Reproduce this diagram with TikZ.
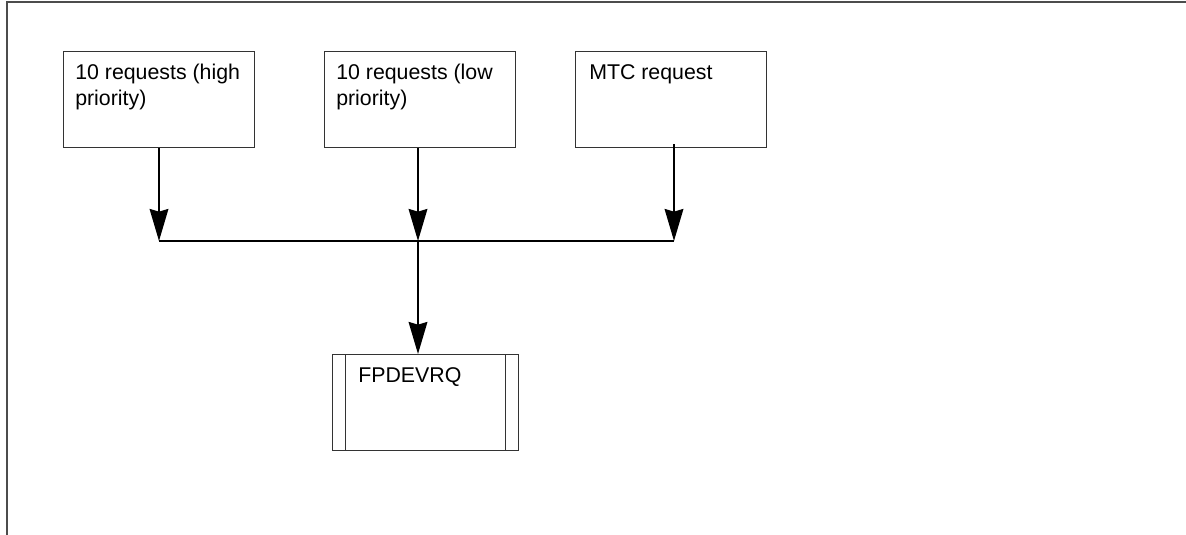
\documentclass[tikz,border=0pt]{standalone}
\usepackage{fontspec}
\setmainfont{Liberation Sans}
\usetikzlibrary{arrows.meta}
\begin{document}
\begin{tikzpicture}[x=0.75pt,y=-0.75pt,
  box/.style={draw=black!80,line width=0.8pt,minimum width=143.25pt,minimum height=72pt,inner sep=0pt,anchor=north west},
  lbl/.style={anchor=north west,inner sep=0pt,align=left,font=\fontsize{16}{19.5}\selectfont},
  flow/.style={line width=1.6pt,-{Stealth[length=24pt,width=14pt,inset=2pt]}},
  bus/.style={line width=1.6pt}]
\useasboundingbox (0,0) rectangle (1186,535);
\draw[black!70,line width=1.5pt] (7,535) -- (7,2) -- (1186,2);
% boxes
\node[box] (b1) at (63,51) {};
\node[box] (b2) at (324,51) {};
\node[box] (b3) at (575,51) {};
\node[lbl] (t1) at (75,64) {10 requests (high\\priority)};
\node[lbl] (t2) at (336,64) {10 requests (low\\priority)};
\node[lbl] (t3) at (589,64) {MTC request};
% predefined process box
\node[draw=black!80,line width=0.8pt,minimum width=139.5pt,minimum height=72pt,inner sep=0pt,anchor=north west] (fp) at (332,354) {};
\draw[black!80,line width=0.8pt] ([xshift=10pt]fp.north west) -- ([xshift=10pt]fp.south west);
\draw[black!80,line width=0.8pt] ([xshift=-10pt]fp.north east) -- ([xshift=-10pt]fp.south east);
\node[lbl] (tf) at (358,367) {FPDEVRQ};
% connectors
\coordinate (j1) at (159,241);
\coordinate (j2) at (418,241);
\coordinate (j3) at (674,241);
\draw[flow] (b1.south -| j1) -- (j1);
\draw[flow] (b2.south -| j2) -- (j2);
\draw[flow] ([yshift=3pt]b3.south -| j3) -- (j3);
\draw[bus] (j1) -- (j3);
\draw[flow] (j2) -- (fp.north -| j2);
\end{tikzpicture}
\end{document}
